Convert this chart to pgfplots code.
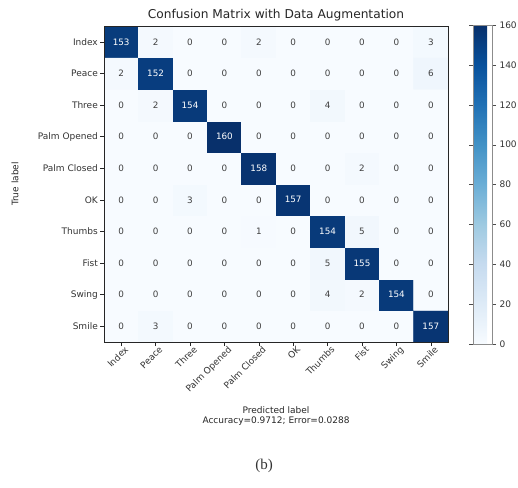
\documentclass[border=0pt]{standalone}
\usepackage{fontspec}
\setmainfont{DejaVu Sans}
\newfontfamily\captionfont{Liberation Serif}
\usepackage{pgfplots}
\usepackage{pgfplotstable}
\pgfplotsset{compat=1.18}

% Confusion matrix: x = predicted class, y = 9 - true class (Smile at bottom)
\pgfplotstableread{
x y c
0 0 0
1 0 3
2 0 0
3 0 0
4 0 0
5 0 0
6 0 0
7 0 0
8 0 0
9 0 157
0 1 0
1 1 0
2 1 0
3 1 0
4 1 0
5 1 0
6 1 4
7 1 2
8 1 154
9 1 0
0 2 0
1 2 0
2 2 0
3 2 0
4 2 0
5 2 0
6 2 5
7 2 155
8 2 0
9 2 0
0 3 0
1 3 0
2 3 0
3 3 0
4 3 1
5 3 0
6 3 154
7 3 5
8 3 0
9 3 0
0 4 0
1 4 0
2 4 3
3 4 0
4 4 0
5 4 157
6 4 0
7 4 0
8 4 0
9 4 0
0 5 0
1 5 0
2 5 0
3 5 0
4 5 158
5 5 0
6 5 0
7 5 2
8 5 0
9 5 0
0 6 0
1 6 0
2 6 0
3 6 160
4 6 0
5 6 0
6 6 0
7 6 0
8 6 0
9 6 0
0 7 0
1 7 2
2 7 154
3 7 0
4 7 0
5 7 0
6 7 4
7 7 0
8 7 0
9 7 0
0 8 2
1 8 152
2 8 0
3 8 0
4 8 0
5 8 0
6 8 0
7 8 0
8 8 0
9 8 6
0 9 153
1 9 2
2 9 0
3 9 0
4 9 2
5 9 0
6 9 0
7 9 0
8 9 0
9 9 3
}\cm

\begin{document}
\begin{tikzpicture}
\useasboundingbox (0pt,0pt) rectangle (518pt,-487pt);
\begin{axis}[
  at={(104pt,-342pt)}, anchor=south west,
  scale only axis, width=344pt, height=316pt,
  xmin=-0.5, xmax=9.5, ymin=-0.5, ymax=9.5,
  enlargelimits=false,
  axis on top,
  axis line style={black!85},
  xtick={0,...,9}, ytick={0,...,9},
  xticklabels={Index,Peace,Three,Palm Opened,Palm Closed,OK,Thumbs,Fist,Swing,Smile},
  yticklabels={Smile,Swing,Fist,Thumbs,OK,Palm Closed,Palm Opened,Three,Peace,Index},
  xtick pos=left, ytick pos=left,
  tick align=outside,
  major tick length=4pt,
  tick style={black!85, line width=0.6pt},
  tick label style={font=\fontsize{9}{10}\selectfont, text=black!80},
  x tick label style={rotate=45, anchor=north east, inner sep=1.5pt, xshift=4pt},
  y tick label style={inner sep=2pt},
  title={Confusion Matrix with Data Augmentation},
  title style={font=\fontsize{12.2}{14}\selectfont, text=black!85, at={(0.5,1)}, anchor=south, yshift=-5pt},
  xlabel={Predicted label\\Accuracy=0.9712; Error=0.0288},
  xlabel style={font=\fontsize{9}{10.5}\selectfont, text=black!85, align=center,
                at={(axis description cs:0.5,-0.192)}, anchor=north},
  ylabel={True label},
  ylabel style={font=\fontsize{9}{10}\selectfont, text=black!85,
                at={(axis description cs:-0.259,0.5)}, anchor=center},
  colormap={blues}{
    rgb255(0)=(247,251,255) rgb255(1)=(222,235,247) rgb255(2)=(198,219,239)
    rgb255(3)=(158,202,225) rgb255(4)=(107,174,214) rgb255(5)=(66,146,198)
    rgb255(6)=(33,113,181) rgb255(7)=(8,81,156) rgb255(8)=(8,48,107)},
  point meta min=0, point meta max=160,
  colorbar,
  colorbar style={
    at={(1.0727,1.003)}, anchor=north west,
    width=19pt, height=319pt,
    ytick={0,20,...,160},
    yticklabel pos=right,
    tick align=outside,
    major tick length=4pt,
    axis line style={black!45},
    tick style={black!70},
    yticklabel style={font=\fontsize{9}{10}\selectfont, text=black!80,
                      /pgf/number format/assume math mode=true},
  },
]
\addplot[matrix plot*, mesh/cols=10, point meta=explicit]
  table[x=x, y=y, meta=c] {\cm};

% cell counts: dark cells get white text
\addplot[draw=none, mark=none, point meta=explicit,
  nodes near coords,
  x filter/.expression={\thisrow{c}>80 ? x : nan},
  every node near coord/.style={anchor=center, text=white,
    font=\fontsize{8.8}{10}\selectfont, /pgf/number format/assume math mode=true}]
  table[x=x, y=y, meta=c] {\cm};
\addplot[draw=none, mark=none, point meta=explicit,
  nodes near coords,
  x filter/.expression={\thisrow{c}>80 ? nan : x},
  every node near coord/.style={anchor=center, text=black!75,
    font=\fontsize{8.8}{10}\selectfont, /pgf/number format/assume math mode=true}]
  table[x=x, y=y, meta=c] {\cm};
\end{axis}
\node[font=\captionfont\fontsize{15}{17}\selectfont, text=black!80] at (264pt,-466pt) {(b)};
\end{tikzpicture}
\end{document}
